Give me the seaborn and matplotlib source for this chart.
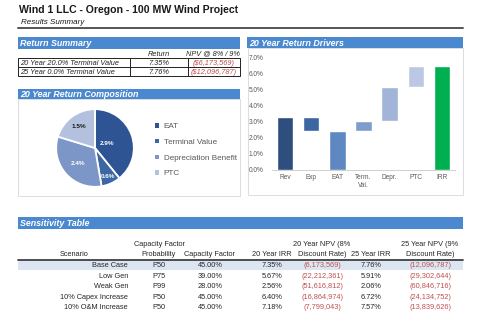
import numpy as np
import pandas as pd
import matplotlib
matplotlib.use("Agg")
import matplotlib.pyplot as plt
import seaborn as sns
from matplotlib.patches import Rectangle
from matplotlib.lines import Line2D
from matplotlib.ticker import FuncFormatter

# ---------------- data ----------------
title = "Wind 1 LLC - Oregon - 100 MW Wind Project"
subtitle = "Results Summary"

summary_rows = ["20 Year 20.0% Terminal Value", "25 Year 0.0% Terminal Value"]
summary_return = ["7.35%", "7.76%"]
summary_npv = ["($6,173,569)", "($12,096,787)"]

pie_labels = ["EAT", "Terminal Value", "Depreciation Benefit", "PTC"]
pie_values = [2.9, 0.6, 2.4, 1.5]
pie_colors = ["#2f5494", "#3c66a4", "#7d96c8", "#b3c0de"]

drv_labels = ["Rev", "Exp", "EAT", "Term.\nVal.", "Depr.", "PTC", "IRR"]
drv_bottom = [0.0, 2.42, 0.0, 2.42, 3.04, 5.12, 0.0]
drv_top = [3.25, 3.25, 2.42, 3.04, 5.12, 6.45, 6.45]
drv_colors = ["#2e4f7e", "#3d67a0", "#5f88c3", "#7f9dcc", "#a2b4d8", "#bcc8e3", "#00b050"]

sens_scenario = ["Base Case", "Low Gen", "Weak Gen", "10% Capex Increase", "10% O&M Increase"]
sens_prob = ["P50", "P75", "P99", "P50", "P50"]
sens_cf = ["45.00%", "39.00%", "28.00%", "45.00%", "45.00%"]
sens_irr20 = ["7.35%", "5.67%", "2.56%", "6.40%", "7.18%"]
sens_npv20 = ["(6,173,569)", "(22,212,361)", "(51,616,812)", "(16,864,974)", "(7,799,043)"]
sens_irr25 = ["7.76%", "5.91%", "2.06%", "6.72%", "7.57%"]
sens_npv25 = ["(12,096,787)", "(29,302,644)", "(60,846,716)", "(24,134,752)", "(13,839,626)"]

# ---------------- setup ----------------
sns.set_style("white")
plt.rcParams["font.family"] = ["Liberation Sans", "DejaVu Sans"]

W, H = 480, 320
fig = plt.figure(figsize=(4.8, 3.2), dpi=100)
fig.patch.set_facecolor("white")

BLUE = "#4a88d0"
RED = "#c0504d"
GRAY = "#595959"


def fx(x):
    return x / W


def fy(y):
    return 1 - y / H


def txt(x, y, s, **kw):
    kw.setdefault("va", "center")
    fig.text(fx(x), fy(y + 1), s, **kw)


def rect(x0, y0, x1, y1, **kw):
    fig.patches.append(Rectangle((fx(x0), fy(y1)), (x1 - x0) / W, (y1 - y0) / H,
                                 transform=fig.transFigure, **kw))


def hline(x0, x1, y, **kw):
    fig.lines.append(Line2D([fx(x0), fx(x1)], [fy(y), fy(y)], transform=fig.transFigure, **kw))


def vline(x, y0, y1, **kw):
    fig.lines.append(Line2D([fx(x), fx(x)], [fy(y0), fy(y1)], transform=fig.transFigure, **kw))


def header(x0, x1, y0, y1, s):
    rect(x0, y0, x1, y1, facecolor=BLUE, edgecolor="none")
    txt(x0 + 2, (y0 + y1) / 2 - 0.5, s, color="white", fontsize=6.4, fontweight="bold", style="italic")


# ---------------- title ----------------
txt(19, 9, title, fontsize=7.6, fontweight="bold", color="#1a1a1a")
txt(21, 21, subtitle, fontsize=5.8, style="italic", color="#1a1a1a")
hline(18, 463, 27.5, color="#555555", lw=1.4)

# ---------------- return summary ----------------
header(18, 240, 37.5, 48.5, "Return Summary")
tfs = 5.3
txt(159, 53, "Return", fontsize=tfs, style="italic", ha="center")
txt(213, 53, "NPV @ 8% / 9%", fontsize=tfs, style="italic", ha="center")
rect(18, 58, 240, 76, facecolor="none", edgecolor="#222222", lw=0.7)
hline(18, 240, 67, color="#222222", lw=0.7)
vline(130, 58, 76, color="#222222", lw=0.7)
vline(188, 58, 76, color="#222222", lw=0.7)
for i, (r, ret, npv) in enumerate(zip(summary_rows, summary_return, summary_npv)):
    yy = 62.5 + 9 * i
    txt(20, yy, r, fontsize=tfs, style="italic")
    txt(159, yy, ret, fontsize=tfs, style="italic", ha="center")
    txt(214, yy, npv, fontsize=tfs, style="italic", ha="center", color=RED)

# ---------------- pie panel ----------------
header(18, 240, 89, 99, "20 Year Return Composition")
rect(18, 99, 240, 196, facecolor="none", edgecolor="#dcdcdc", lw=0.7)
ax_pie = fig.add_axes([fx(55), fy(188), 80 / W, 80 / H])
wedges, _ = ax_pie.pie(pie_values, colors=pie_colors, startangle=90, counterclock=False,
                       wedgeprops=dict(edgecolor="white", linewidth=1.3))
ax_pie.set_xlim(-1.03, 1.03)
ax_pie.set_ylim(-1.03, 1.03)
ax_pie.set_aspect("equal")
lab_r = [0.33, 0.8, 0.6, 0.68]
lab_c = ["white", "white", "white", "#1a1a1a"]
for w, v, r, c in zip(wedges, pie_values, lab_r, lab_c):
    ang = np.deg2rad((w.theta1 + w.theta2) / 2)
    ax_pie.text(r * np.cos(ang), r * np.sin(ang), f"{v:.1f}%", ha="center", va="center",
                fontsize=4.6, fontweight="bold", color=c)
proxies = [Rectangle((0, 0), 1, 1, facecolor=c, edgecolor="none") for c in pie_colors]
fig.legend(proxies, pie_labels, loc="upper left", bbox_to_anchor=(fx(151), fy(119)),
           frameon=False, fontsize=5.9, labelcolor=GRAY, handlelength=0.45, handleheight=0.45,
           handletextpad=0.6, labelspacing=1.05, borderpad=0)

# ---------------- waterfall panel ----------------
header(247, 463, 37, 48, "20 Year Return Drivers")
rect(248, 48, 463, 195, facecolor="none", edgecolor="#dcdcdc", lw=0.7)
ax_w = fig.add_axes([fx(272), fy(169.7), (455 - 272) / W, (169.7 - 57) / H])
drv = pd.DataFrame({"label": drv_labels,
                    "height": np.array(drv_top) - np.array(drv_bottom)})
sns.barplot(data=drv, x="label", y="height", hue="label", palette=drv_colors,
            legend=False, width=0.63, ax=ax_w, saturation=1)
for p, b in zip(ax_w.patches, drv_bottom):
    p.set_y(b)
ax_w.set_xlim(-0.5, len(drv_labels) - 0.5)
ax_w.set_ylim(0, 7)
ax_w.set_yticks(np.arange(0, 8, 1))
ax_w.yaxis.set_major_formatter(FuncFormatter(lambda v, _: f"{v:.1f}%"))
ax_w.set_xlabel("")
ax_w.set_ylabel("")
ax_w.tick_params(axis="both", labelsize=4.7, labelcolor=GRAY, length=0, pad=3)
ax_w.tick_params(axis="y", pad=6)
for s in ["top", "right", "left"]:
    ax_w.spines[s].set_visible(False)
ax_w.spines["bottom"].set_color("#d0d0d0")
ax_w.spines["bottom"].set_linewidth(0.7)
ax_w.set_facecolor("none")

# ---------------- sensitivity table ----------------
header(18, 463, 217, 229, "Sensitivity Table")
hfs = 5.3
txt(74, 253, "Scenario", fontsize=hfs, ha="center")
txt(159, 243, "Capacity Factor", fontsize=hfs, ha="center")
txt(159, 253, "Probability", fontsize=hfs, ha="center")
txt(210, 253, "Capacity Factor", fontsize=hfs, ha="center")
txt(272, 253, "20 Year IRR", fontsize=hfs, ha="center")
txt(322, 243, "20 Year NPV (8%", fontsize=hfs, ha="center")
txt(322, 253, "Discount Rate)", fontsize=hfs, ha="center")
txt(371, 253, "25 Year IRR", fontsize=hfs, ha="center")
txt(430, 243, "25 Year NPV (9%", fontsize=hfs, ha="center")
txt(430, 253, "Discount Rate)", fontsize=hfs, ha="center")
rect(18, 259.5, 463, 270, facecolor="#dce6f2", edgecolor="none")
hline(18, 463, 259.5, color="#404040", lw=1.3)
for i in range(len(sens_scenario)):
    yy = 264.5 + 10.6 * i
    txt(128, yy, sens_scenario[i], fontsize=hfs, ha="right")
    txt(159, yy, sens_prob[i], fontsize=hfs, ha="center")
    txt(210, yy, sens_cf[i], fontsize=hfs, ha="center")
    txt(272, yy, sens_irr20[i], fontsize=hfs, ha="center")
    txt(322, yy, sens_npv20[i], fontsize=hfs, ha="center", color=RED)
    txt(371, yy, sens_irr25[i], fontsize=hfs, ha="center")
    txt(430, yy, sens_npv25[i], fontsize=hfs, ha="center", color=RED)

fig.savefig("out.png", dpi=100, facecolor="white")
